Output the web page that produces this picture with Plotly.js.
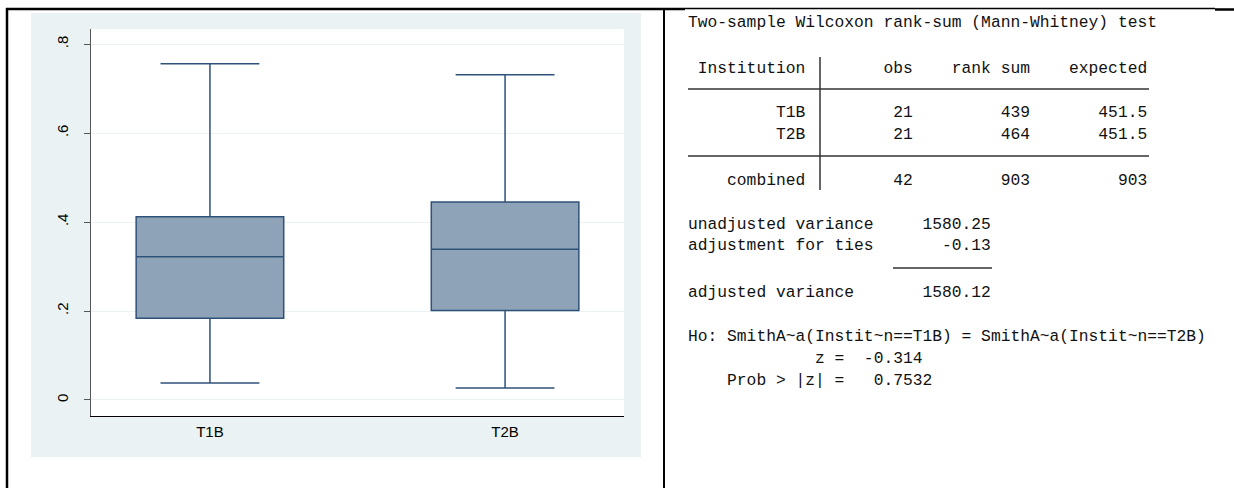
<!DOCTYPE html>
<html>
<head>
<meta charset="utf-8">
<script src="https://cdn.plot.ly/plotly-3.0.1.min.js"></script>
<style>
html,body{margin:0;padding:0;background:#fff;}
#chart{width:1234px;height:488px;}
</style>
</head>
<body>
<div id="chart"></div>
<script>
// ---- box plot data ----
const categories = ['T1B', 'T2B'];
const lowerWhisker = [0.038, 0.027];
const q1Values = [0.184, 0.201];
const medianValues = [0.322, 0.339];
const q3Values = [0.412, 0.445];
const upperWhisker = [0.756, 0.731];
const yTickVals = [0, 0.2, 0.4, 0.6, 0.8];
const yTickText = ['0', '.2', '.4', '.6', '.8'];

// ---- Wilcoxon rank-sum output ----
const testTitle = 'Two-sample Wilcoxon rank-sum (Mann-Whitney) test';
const tableHeader = ['Institution', 'obs', 'rank sum', 'expected'];
const groupObs = [21, 21];
const groupRankSum = [439, 464];
const groupExpected = ['451.5', '451.5'];
const combinedLabel = 'combined';
const combinedRow = [42, 903, 903];
const varianceLabels = ['unadjusted variance', 'adjustment for ties', 'adjusted variance'];
const varianceValues = ['1580.25', '-0.13', '1580.12'];
const hypothesis = 'Ho: SmithA~a(Instit~n==T1B) = SmithA~a(Instit~n==T2B)';
const zValue = '-0.314';
const pValue = '0.7532';

// ---- helpers for page-pixel placement ----
const W = 1234, H = 488;
const px = x => x / W;
const py = y => 1 - y / H;
const nb = s => s.replace(/ /g, '\u00A0');

const trace = {
  type: 'box',
  x: categories,
  q1: q1Values,
  median: medianValues,
  q3: q3Values,
  lowerfence: lowerWhisker,
  upperfence: upperWhisker,
  boxpoints: false,
  width: 0.5,
  whiskerwidth: 0.67,
  fillcolor: '#8ea3b8',
  line: {color: '#2f5279', width: 1.5},
  hoverinfo: 'skip',
  showlegend: false
};

// ---- text lines of the output ----
const row = (a, b, c, d) => String(a).padStart(12) + '  ' + String(b).padStart(9) + String(c).padStart(12) + String(d).padStart(12);
const textLines = [
  {y: 23, t: testTitle},
  {y: 68, t: row(tableHeader[0], tableHeader[1], tableHeader[2], tableHeader[3])},
  {y: 112, t: row(categories[0], groupObs[0], groupRankSum[0], groupExpected[0])},
  {y: 134, t: row(categories[1], groupObs[1], groupRankSum[1], groupExpected[1])},
  {y: 180, t: row(combinedLabel, combinedRow[0], combinedRow[1], combinedRow[2])},
  {y: 224, t: varianceLabels[0].padEnd(19) + varianceValues[0].padStart(12)},
  {y: 246, t: varianceLabels[1].padEnd(19) + varianceValues[1].padStart(12)},
  {y: 292, t: varianceLabels[2].padEnd(19) + varianceValues[2].padStart(12)},
  {y: 336, t: hypothesis},
  {y: 358, t: ' '.repeat(13) + 'z =  ' + zValue},
  {y: 380, t: '    Prob > |z| =   ' + pValue}
];

const annotations = textLines.map(l => ({
  xref: 'paper', yref: 'paper',
  x: px(687), y: py(l.y),
  xanchor: 'left', yanchor: 'middle',
  text: nb(l.t),
  showarrow: false,
  borderpad: 0,
  font: {family: 'Liberation Mono, Courier New, monospace', size: 16.3, color: '#111'}
}));

const lineShape = (x0, y0, x1, y1, w, c) => ({
  type: 'line', xref: 'paper', yref: 'paper',
  x0: px(x0), y0: py(y0), x1: px(x1), y1: py(y1),
  line: {color: c || '#000', width: w}, layer: 'above'
});

const shapes = [
  // Stata graph background
  {type: 'rect', xref: 'paper', yref: 'paper', x0: px(31), x1: px(641), y0: py(457), y1: py(13),
   fillcolor: '#eaf2f3', line: {width: 0}, layer: 'below'},
  // white plot region
  {type: 'rect', xref: 'paper', yref: 'paper', x0: px(91), x1: px(624), y0: py(416), y1: py(29),
   fillcolor: '#ffffff', line: {width: 0}, layer: 'below'},
  // page borders
  lineShape(7, 8, 7, 488, 2.5),
  lineShape(6, 9, 685, 9, 2.5),
  lineShape(685, 8.5, 1215, 8.5, 1.3),
  lineShape(1215, 9.5, 1234, 9.5, 2.5),
  lineShape(664, 8, 664, 488, 2),
  // table rules
  lineShape(688, 89, 1149, 89, 1.5, '#333'),
  lineShape(688, 156, 1149, 156, 1.5, '#333'),
  lineShape(820, 57, 820, 190, 1.5, '#333'),
  lineShape(893, 268, 992, 268, 1.5, '#333')
];

const layout = {
  width: W, height: H,
  margin: {l: 0, r: 0, t: 0, b: 0},
  paper_bgcolor: '#ffffff',
  plot_bgcolor: 'rgba(0,0,0,0)',
  showlegend: false,
  xaxis: {
    domain: [px(91), px(624)],
    range: [-0.403, 1.403],
    type: 'category',
    showline: true, linecolor: '#000', linewidth: 1,
    ticks: '', showgrid: false, zeroline: false,
    tickfont: {family: 'Liberation Sans, Arial, sans-serif', size: 15, color: '#000'},
    ticklabelstandoff: 2,
    fixedrange: true
  },
  yaxis: {
    domain: [py(416), py(29)],
    range: [-0.036, 0.834],
    tickvals: yTickVals, ticktext: yTickText,
    tickangle: -90,
    ticks: 'outside', ticklen: 6, tickcolor: '#555', tickwidth: 1,
    showline: true, linecolor: '#555', linewidth: 1,
    showgrid: true, gridcolor: '#eaf2f3', gridwidth: 1,
    zeroline: false,
    tickfont: {family: 'Liberation Sans, Arial, sans-serif', size: 15, color: '#000'},
    ticklabelstandoff: 10,
    fixedrange: true
  },
  shapes: shapes,
  annotations: annotations
};

Plotly.newPlot('chart', [trace], layout, {displayModeBar: false, staticPlot: true});
</script>
</body>
</html>
